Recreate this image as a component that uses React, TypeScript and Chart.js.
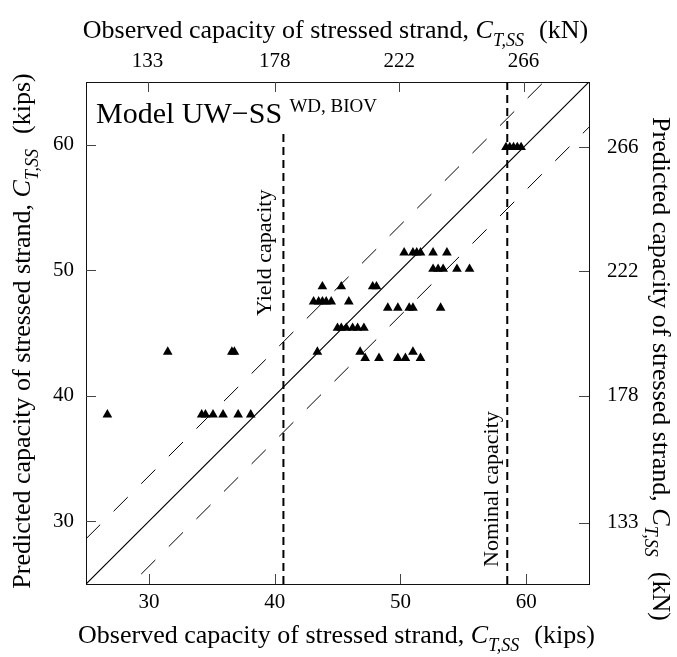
import React, { useEffect, useRef } from 'react';
import { Chart, registerables } from 'chart.js';

Chart.register(...registerables);

const KN_PER_KIP = 4.448222;
const FONT = '"Liberation Serif", "Times New Roman", serif';

// Observed vs predicted capacity (kips)
const observed = [
  26.7, 34.2, 34.5, 35.1, 35.9, 37.1, 38.1,
  31.5, 36.6, 36.8, 43.4, 46.8, 51.0,
  47.2, 48.3, 49.8, 50.4, 51.6,
  45.0, 45.3, 45.7, 46.2, 46.6, 47.1,
  49.0, 49.8, 50.7, 51.0, 53.2,
  43.1, 43.5, 43.8, 44.1, 44.5, 45.9,
  43.8, 45.3, 47.8, 48.1,
  52.6, 53.0, 53.4, 54.5, 55.5,
  50.3, 51.0, 51.3, 51.6, 52.6, 53.7,
  58.4, 58.7, 59.0, 59.3, 59.6,
];
const predicted = [
  38.5, 38.5, 38.5, 38.5, 38.5, 38.5, 38.5,
  43.5, 43.5, 43.5, 43.5, 43.5, 43.5,
  43.0, 43.0, 43.0, 43.0, 43.0,
  45.4, 45.4, 45.4, 45.4, 45.4, 45.4,
  47.0, 47.0, 47.0, 47.0, 47.0,
  47.5, 47.5, 47.5, 47.5, 47.5, 47.5,
  48.7, 48.7, 48.7, 48.7,
  50.1, 50.1, 50.1, 50.1, 50.1,
  51.4, 51.4, 51.4, 51.4, 51.4, 51.4,
  59.8, 59.8, 59.8, 59.8, 59.8,
];

const kipTicks = [30, 40, 50, 60];
const knTicks = [133, 178, 222, 266];
const axisRange = [25, 65];
const bandOffset = 3.6;
const yieldCapacity = 40.7;
const yieldLineTop = 61;
const nominalCapacity = 58.5;

type Part = { text: string; font: string; dy?: number; gap?: number };

function drawRich(ctx: CanvasRenderingContext2D, parts: Part[], x: number, y: number, angle: number, align: 'left' | 'center') {
  ctx.save();
  ctx.translate(x, y);
  ctx.rotate(angle);
  ctx.textAlign = 'left';
  ctx.textBaseline = 'alphabetic';
  ctx.fillStyle = '#000';
  let total = 0;
  for (const p of parts) {
    ctx.font = p.font;
    total += ctx.measureText(p.text).width + (p.gap || 0);
  }
  let cx = align === 'center' ? -total / 2 : 0;
  for (const p of parts) {
    ctx.font = p.font;
    cx += p.gap || 0;
    ctx.fillText(p.text, cx, p.dy || 0);
    cx += ctx.measureText(p.text).width;
  }
  ctx.restore();
}

const titleParts = (prefix: string, unit: string): Part[] => [
  { text: prefix + ' capacity of stressed strand, ', font: `26px ${FONT}` },
  { text: 'C', font: `italic 26px ${FONT}` },
  { text: 'T,SS', font: `italic 18px ${FONT}`, dy: 8 },
  { text: '(' + unit + ')', font: `26px ${FONT}`, gap: 15 },
];

const decorPlugin = {
  id: 'decor',
  afterDraw(chart: any) {
    const { ctx, chartArea: a, scales } = chart;
    ctx.save();
    ctx.strokeStyle = '#444';
    ctx.lineWidth = 1;
    const line = (x1: number, y1: number, x2: number, y2: number) => {
      ctx.beginPath();
      ctx.moveTo(x1, y1);
      ctx.lineTo(x2, y2);
      ctx.stroke();
    };
    for (const v of kipTicks) {
      const px = Math.round(scales.x.getPixelForValue(v)) + 0.5;
      line(px, a.bottom, px, a.bottom - 10);
      const py = Math.round(scales.y.getPixelForValue(v)) + 0.5;
      line(a.left, py, a.left + 10, py);
    }
    for (const v of knTicks) {
      const px = Math.round(scales.x2.getPixelForValue(v)) + 0.5;
      line(px, a.top, px, a.top + 10);
      const py = Math.round(scales.y2.getPixelForValue(v)) + 0.5;
      line(a.right, py, a.right - 10, py);
    }
    ctx.restore();

    const cxm = (a.left + a.right) / 2;
    const cym = (a.top + a.bottom) / 2;
    drawRich(ctx, titleParts('Observed', 'kips'), cxm - 1, 643, 0, 'center');
    drawRich(ctx, titleParts('Observed', 'kN'), cxm - 2, 38, 0, 'center');
    drawRich(ctx, titleParts('Predicted', 'kips'), 30, cym - 2, -Math.PI / 2, 'center');
    drawRich(ctx, titleParts('Predicted', 'kN'), 653, cym + 36, Math.PI / 2, 'center');

    drawRich(ctx, [{ text: 'Model UW\u2212SS', font: `30px ${FONT}` }], a.left + 10, a.top + 41, 0, 'left');

    const yx = scales.x.getPixelForValue(yieldCapacity);
    const nx = scales.x.getPixelForValue(nominalCapacity);
    drawRich(ctx, [{ text: 'WD, BIOV', font: `19px ${FONT}` }], yx + 6, scales.y.getPixelForValue(yieldLineTop) - 20, 0, 'left');
    drawRich(ctx, [{ text: 'Yield capacity', font: `22px ${FONT}` }], yx - 12, 316, -Math.PI / 2, 'left');
    drawRich(ctx, [{ text: 'Nominal capacity', font: `22px ${FONT}` }], nx - 9, 567, -Math.PI / 2, 'left');
  },
};

export default function App() {
  const ref = useRef<HTMLCanvasElement>(null);
  useEffect(() => {
    const [lo, hi] = axisRange;
    const points = observed.map((x, i) => ({ x, y: predicted[i] }));
    const tickFont = { family: FONT, size: 21 };
    const setTicks = (list: number[]) => (s: any) => {
      s.ticks = list.map((v) => ({ value: v }));
    };
    const common = {
      type: 'linear' as const,
      grid: { display: true, drawOnChartArea: false, drawTicks: false },
      border: { display: true, color: '#111', width: 1 },
    };
    const chart = new Chart(ref.current as HTMLCanvasElement, {
      type: 'scatter',
      data: {
        datasets: [
          {
            label: 'points',
            data: points,
            pointStyle: 'triangle',
            pointRadius: 5.6,
            backgroundColor: '#000',
            borderColor: '#000',
            borderWidth: 0,
          },
          {
            label: 'parity',
            data: [{ x: lo, y: lo }, { x: hi, y: hi }],
            showLine: true,
            pointRadius: 0,
            borderColor: '#000',
            borderWidth: 1.2,
          },
          {
            label: 'upper',
            data: [{ x: lo, y: lo + bandOffset }, { x: hi, y: hi + bandOffset }],
            showLine: true,
            pointRadius: 0,
            borderColor: '#000',
            borderWidth: 1,
            borderDash: [20, 19],
          },
          {
            label: 'lower',
            data: [{ x: lo, y: lo - bandOffset }, { x: hi, y: hi - bandOffset }],
            showLine: true,
            pointRadius: 0,
            borderColor: '#000',
            borderWidth: 1,
            borderDash: [20, 19],
          },
          {
            label: 'yield',
            data: [{ x: yieldCapacity, y: lo }, { x: yieldCapacity, y: yieldLineTop }],
            showLine: true,
            pointRadius: 0,
            borderColor: '#000',
            borderWidth: 2,
            borderDash: [8, 5],
          },
          {
            label: 'nominal',
            data: [{ x: nominalCapacity, y: lo }, { x: nominalCapacity, y: hi }],
            showLine: true,
            pointRadius: 0,
            borderColor: '#000',
            borderWidth: 2,
            borderDash: [8, 5],
          },
        ],
      },
      options: {
        animation: false,
        responsive: false,
        devicePixelRatio: 1,
        layout: { padding: 0 },
        plugins: { legend: { display: false }, tooltip: { enabled: false } },
        scales: {
          x: {
            ...common,
            position: 'bottom',
            min: lo,
            max: hi,
            afterBuildTicks: setTicks(kipTicks),
            afterFit: (s: any) => { s.height = 73; },
            ticks: { font: tickFont, color: '#000', padding: 6, autoSkip: false, maxRotation: 0 },
          },
          x2: {
            ...common,
            position: 'top',
            min: lo * KN_PER_KIP,
            max: hi * KN_PER_KIP,
            afterBuildTicks: setTicks(knTicks),
            afterFit: (s: any) => { s.height = 82; },
            ticks: { font: tickFont, color: '#000', padding: 8, autoSkip: false, maxRotation: 0 },
          },
          y: {
            ...common,
            position: 'left',
            min: lo,
            max: hi,
            afterBuildTicks: setTicks(kipTicks),
            afterFit: (s: any) => { s.width = 86; },
            ticks: { font: tickFont, color: '#000', padding: 12, autoSkip: false },
          },
          y2: {
            ...common,
            position: 'right',
            min: lo * KN_PER_KIP,
            max: hi * KN_PER_KIP,
            afterBuildTicks: setTicks(knTicks),
            afterFit: (s: any) => { s.width = 88; },
            ticks: { font: tickFont, color: '#000', padding: 18, autoSkip: false },
          },
        },
      } as any,
      plugins: [decorPlugin],
    });
    return () => chart.destroy();
  }, []);

  return (
    <div style={{ position: 'fixed', left: 0, top: 0, width: 677, height: 657, background: '#fff' }}>
      <canvas ref={ref} width={677} height={657} style={{ display: 'block' }} />
    </div>
  );
}
